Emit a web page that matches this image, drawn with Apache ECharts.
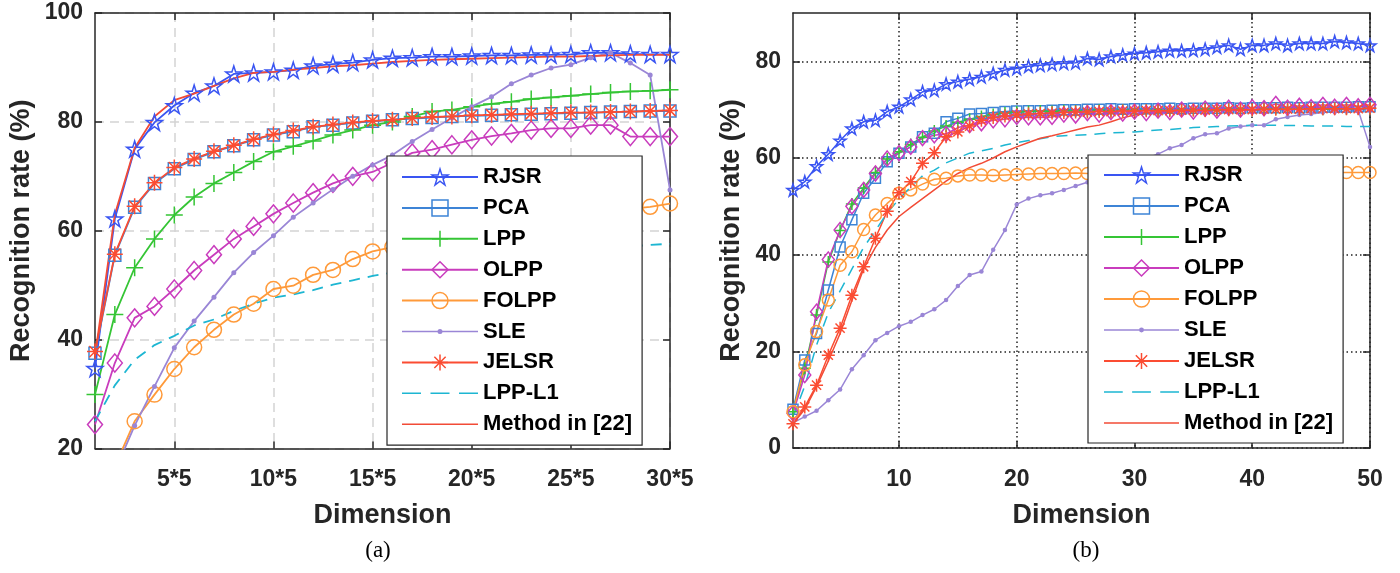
<!DOCTYPE html>
<html><head><meta charset="utf-8">
<script src="https://cdn.jsdelivr.net/npm/echarts@6/dist/echarts.min.js"></script>
<style>html,body{margin:0;padding:0;background:#fff}#c{width:1400px;height:573px}</style>
</head><body><div id="c"></div><script>
// ---------- categories / ticks ----------
const methodNames = ['RJSR','PCA','LPP','OLPP','FOLPP','SLE','JELSR','LPP-L1','Method in [22]'];
const dimsA = [1,2,3,4,5,6,7,8,9,10,11,12,13,14,15,16,17,18,19,20,21,22,23,24,25,26,27,28,29,30];
const xTicksA = [5,10,15,20,25,30];
const xTickLabelsA = ['5*5','10*5','15*5','20*5','25*5','30*5'];
const yTicksA = [20,40,60,80,100];
const dimsB = [1,2,3,4,5,6,7,8,9,10,11,12,13,14,15,16,17,18,19,20,21,22,23,24,25,26,27,28,29,30,31,32,33,34,35,36,37,38,39,40,41,42,43,44,45,46,47,48,49,50];
const xTicksB = [10,20,30,40,50];
const yTicksB = [0,20,40,60,80];

// ---------- (a) values ----------
const rjsrA   = [34.7,62.2,75.0,79.9,83.0,85.3,86.6,88.8,89.0,89.2,89.5,90.3,90.6,90.9,91.4,91.7,91.8,92.0,92.0,92.1,92.2,92.2,92.3,92.3,92.4,92.7,92.7,92.5,92.4,92.4];
const pcaA    = [37.5,55.5,64.3,68.7,71.4,73.1,74.5,75.6,76.7,77.6,78.2,79.1,79.4,79.8,80.1,80.4,80.6,80.8,81.0,81.1,81.2,81.3,81.4,81.5,81.6,81.7,81.8,81.9,82.0,82.0];
const lppA    = [29.9,44.6,53.2,58.5,62.9,66.2,68.7,70.7,72.7,74.5,75.5,76.5,77.6,78.5,79.4,80.0,81.0,81.9,82.2,82.8,83.3,83.7,84.2,84.5,84.8,85.1,85.4,85.6,85.7,85.9];
const olppA   = [24.4,35.7,44.0,46.1,49.3,52.7,55.6,58.5,60.8,63.1,65.1,67.0,68.7,70.0,70.8,72.5,74.3,74.9,75.8,76.7,77.4,77.9,78.5,78.8,78.8,79.4,79.4,77.3,77.3,77.3];
const folppA  = [9.0,16.7,25.0,29.9,34.6,38.6,41.8,44.6,46.6,49.3,49.9,51.9,52.8,54.8,56.2,57.0,57.8,58.5,59.2,59.9,60.4,61.0,61.5,62.1,62.6,63.0,63.5,64.0,64.4,65.0];
const sleA    = [8.0,15.8,24.2,31.4,38.5,43.4,47.8,52.3,56.0,59.1,62.5,65.1,67.6,70.0,72.1,73.9,76.4,78.6,80.7,82.8,84.6,87.0,88.6,89.9,90.5,91.8,92.7,90.8,88.6,67.5];
const jelsrA  = [37.8,55.7,64.5,68.8,71.6,73.2,74.6,75.7,76.8,77.7,78.4,79.1,79.5,79.9,80.2,80.4,80.7,80.9,81.0,81.2,81.3,81.4,81.5,81.6,81.7,81.7,81.8,81.9,82.0,82.1];
const lppl1A  = [25.0,31.6,36.3,39.0,40.7,42.6,43.7,45.3,46.6,47.7,48.3,49.1,50.1,50.9,51.7,52.3,52.9,53.4,53.9,54.4,54.8,55.2,55.6,56.0,56.3,56.6,56.9,57.1,57.4,57.6];
const methodA = [37.0,63.0,75.2,81.0,84.0,85.2,86.6,88.0,89.0,89.2,89.6,89.9,90.2,90.4,90.7,91.0,91.2,91.4,91.5,91.6,91.7,91.8,91.9,92.0,92.0,92.1,92.2,92.3,92.3,92.3];

// ---------- (b) values ----------
const rjsrB   = [53.4,55.1,58.3,60.8,63.6,66.1,67.5,67.8,69.6,70.6,72.1,73.7,74.0,75.3,75.8,76.3,76.8,77.5,78.2,78.5,79.0,79.2,79.4,79.6,79.7,80.6,80.4,81.0,81.3,81.6,81.8,82.0,82.2,82.2,82.3,82.5,82.9,83.3,82.5,83.3,83.3,83.7,83.3,83.7,83.7,83.7,84.1,83.9,83.7,83.3];
const pcaB    = [8.0,18.2,23.7,32.7,41.6,47.2,52.7,55.8,59.2,61.0,62.3,64.4,65.1,67.5,68.2,69.1,69.2,69.4,69.6,69.7,69.8,69.8,69.9,70.0,70.0,70.1,70.1,70.2,70.1,70.2,70.2,70.2,70.3,70.2,70.3,70.3,70.3,70.4,70.3,70.4,70.4,70.4,70.5,70.4,70.5,70.5,70.5,70.5,70.6,70.6];
const lppB    = [7.5,16.5,27.5,38.5,45.0,50.5,53.8,57.0,59.8,61.3,62.8,64.3,65.6,66.6,67.4,68.0,68.6,69.0,69.3,69.5,69.6,69.7,69.6,69.8,69.7,69.8,69.9,69.8,69.9,70.0,69.9,70.0,70.0,69.9,70.0,70.1,70.0,70.1,70.1,70.0,70.1,70.2,70.1,70.2,70.2,70.1,70.2,70.2,70.2,70.3];
const olppB   = [7.2,15.1,28.2,39.0,45.1,50.0,53.4,56.8,59.9,61.0,62.3,64.1,64.7,65.0,66.3,66.8,67.2,67.8,68.0,68.5,68.4,68.4,68.5,69.0,68.8,69.3,69.0,69.5,69.2,69.6,69.3,69.8,69.5,70.0,69.6,70.2,69.8,70.4,70.0,70.5,70.3,71.2,70.4,70.8,70.5,71.0,70.6,71.0,70.7,71.0];
const folppB  = [7.5,17.2,24.1,30.6,37.8,40.6,45.2,48.2,50.6,52.7,53.4,54.6,55.6,55.8,56.3,56.5,56.5,56.4,56.5,56.6,56.7,56.8,56.8,56.8,56.9,56.8,56.9,56.9,56.8,56.9,57.0,56.9,56.9,57.0,56.9,57.0,57.0,56.9,57.0,57.0,57.0,56.9,57.0,57.0,57.0,56.9,57.0,57.0,57.0,57.0];
const sleB    = [5.2,6.5,7.7,9.9,12.1,16.3,19.2,22.3,23.8,25.2,26.1,27.5,28.7,30.6,33.5,35.8,36.5,41.0,45.1,50.4,51.6,52.3,52.7,53.4,54.2,55.0,56.0,57.2,58.3,59.3,60.0,60.8,62.0,62.7,64.1,64.9,65.1,66.1,66.5,66.8,66.8,68.0,68.5,68.9,69.1,69.4,69.6,69.6,69.9,62.3];
const jelsrB  = [5.0,8.5,13.0,19.2,24.8,31.6,37.5,43.4,49.0,52.8,55.1,58.9,61.1,64.4,65.4,66.6,67.8,68.4,68.7,68.9,69.1,69.2,69.3,69.4,69.5,69.5,69.6,69.6,69.7,69.7,69.8,69.8,69.8,69.9,69.9,69.9,70.0,70.0,70.0,70.0,70.1,70.1,70.1,70.1,70.2,70.2,70.2,70.2,70.2,70.3];
const lppl1B  = [6.5,12.8,21.3,28.0,32.5,37.0,41.5,45.0,48.6,51.5,54.0,56.3,57.5,59.0,60.0,61.0,61.5,62.0,62.7,63.2,63.6,64.0,64.4,64.6,64.7,64.8,65.0,65.2,65.3,65.4,65.6,65.8,65.9,66.1,66.3,66.4,66.5,66.6,66.7,66.8,66.8,66.8,66.7,66.7,66.6,66.6,66.6,66.5,66.5,66.5];
const methodB = [5.0,8.0,12.7,18.0,23.7,30.5,37.1,41.5,45.1,47.9,49.8,51.6,53.4,55.2,56.8,58.0,58.9,60.0,61.3,62.3,63.2,64.1,64.6,65.2,65.8,66.4,66.8,67.5,68.3,68.9,69.2,69.4,69.5,69.6,69.7,69.7,69.8,69.8,69.9,69.9,70.0,70.0,70.0,70.1,70.1,70.1,70.2,70.2,70.2,70.2];

// ---------- styles ----------
const C = {
  'RJSR':'#3a55f2','PCA':'#3d84d6','LPP':'#35c535','OLPP':'#c93cbd','FOLPP':'#ff9a3a',
  'SLE':'#9a86d6','JELSR':'#fb4c32','LPP-L1':'#1db6d2','Method in [22]':'#f24b36'
};
const STAR = 'path://M0,-10 L2.245,-3.09 L9.51,-3.09 L3.633,1.18 L5.88,8.09 L0,3.82 L-5.88,8.09 L-3.633,1.18 L-9.51,-3.09 L-2.245,-3.09 Z';
const PLUS = 'path://M0,-10 L0,10 M-10,0 L10,0';
const ASTER = 'path://M0,-10 L0,10 M-10,0 L10,0 M-7.07,-7.07 L7.07,7.07 M-7.07,7.07 L7.07,-7.07';
const SYM = {
  'RJSR':[STAR,[16,16],[12,12]], 'PCA':['rect',[12,12],[10,10]], 'LPP':[PLUS,[17,17],[12,12]],
  'OLPP':['diamond',[15,18],[12,15]], 'FOLPP':['circle',[15,15],[12,12]], 'SLE':['circle',[5,5],[4.5,4.5]],
  'JELSR':[ASTER,[16,16],[13,13]], 'LPP-L1':['none',0,0], 'Method in [22]':['none',0,0]
};
const TXT = '#262626';
const FONT = 'Liberation Sans';

function mk(name, vals, dims, idx, which) {
  const col = C[name];
  const s = SYM[name];
  const filled = name === 'SLE' || s[0] === 'none';
  return {
    type:'line', name: name, xAxisIndex: idx, yAxisIndex: idx,
    data: dims.map((d,i)=>[d, vals[i]]),
    symbol: s[0], symbolSize: which === 0 ? s[1] : s[2], showSymbol: s[0] !== 'none',
    clip: true, animation:false, silent:true,
    lineStyle:{color:col, width: which===0 ? 1.8 : 1.5, type: name==='LPP-L1' ? [11,8] : 'solid'},
    itemStyle: filled ? {color:col, borderWidth:0} : {color:'rgba(0,0,0,0)', borderColor:col, borderWidth:1.5},
    emphasis:{disabled:true}
  };
}
const valsA = [rjsrA,pcaA,lppA,olppA,folppA,sleA,jelsrA,lppl1A,methodA];
const valsB = [rjsrB,pcaB,lppB,olppB,folppB,sleB,jelsrB,lppl1B,methodB];
const series = [];
methodNames.forEach((n,i)=>series.push(mk(n, valsA[i], dimsA, 0, 0)));
methodNames.forEach((n,i)=>series.push(mk(n, valsB[i], dimsB, 1, 1)));

const ICONS = {
  'SLE':'path://M0,9.2 L76,9.2 L76,10.8 L0,10.8 Z M35.5,10 A2.5,2.5 0 1,1 40.5,10 A2.5,2.5 0 1,1 35.5,10 Z',
  'LPP-L1':'path://M0,9.2 L19,9.2 L19,10.8 L0,10.8 Z M28.5,9.2 L47.5,9.2 L47.5,10.8 L28.5,10.8 Z M57,9.2 L76,9.2 L76,10.8 L57,10.8 Z',
  'Method in [22]':'path://M0,9.2 L76,9.2 L76,10.8 L0,10.8 Z'
};
function legendData() {
  return methodNames.map(n => ICONS[n] ? {name:n, icon: ICONS[n], itemStyle:{borderWidth:0, color:C[n]}} : {name:n});
}

const axisLineStyle = {color:TXT, width:1.5};
function xAx(grid, min, max, ticks, fmt, pos, grids) {
  return {
    type:'value', gridIndex:grid, min:min, max:max, position:pos,
    axisLine:{show:true, onZero:false, lineStyle:axisLineStyle},
    axisTick:{show:true, inside:true, length:7, customValues:ticks, lineStyle:axisLineStyle},
    axisLabel:{show: pos==='bottom', customValues:ticks, formatter:fmt, margin:20,
      fontFamily:FONT, fontWeight:'bold', fontSize:23, color:TXT},
    splitLine: grids ? grids : {show:false},
    name: pos==='bottom' ? 'Dimension' : '', nameLocation:'middle', nameGap:54,
    nameTextStyle:{fontFamily:FONT, fontWeight:'bold', fontSize:27, color:TXT}
  };
}
function yAx(grid, min, max, ticks, pos, grids, gap) {
  return {
    type:'value', gridIndex:grid, min:min, max:max, position:pos,
    axisLine:{show:true, onZero:false, lineStyle:axisLineStyle},
    axisTick:{show:true, inside:true, length:7, customValues:ticks, lineStyle:axisLineStyle},
    axisLabel:{show: pos==='left', customValues:ticks, margin:12,
      fontFamily:FONT, fontWeight:'bold', fontSize:23, color:TXT},
    splitLine: grids ? grids : {show:false},
    name: pos==='left' ? 'Recognition rate (%)' : '', nameLocation:'middle', nameGap:gap, nameRotate:90,
    nameTextStyle:{fontFamily:FONT, fontWeight:'bold', fontSize:27, color:TXT}
  };
}
const gridDashed = {show:true, lineStyle:{color:'#d4d4d4', width:1.5, type:[9,6]}};
const gridDotted = {show:true, lineStyle:{color:'#222', width:1.5, type:[1.5,3]}};

function legendCfg(left, top, w, gap, pad) {
  return {left:left, top:top, orient:'vertical', data:legendData(), selectedMode:false,
    itemWidth:w, itemHeight:20, itemGap:gap, padding:pad,
    itemStyle:{borderWidth:1.5},
    backgroundColor:'#fff', borderColor:TXT, borderWidth:1.2,
    textStyle:{fontFamily:FONT, fontWeight:'bold', fontSize:22, lineHeight:22, color:'#000'}};
}

const option = {
  backgroundColor:'#fff',
  animation:false,
  grid:[
    {left:95, top:13, width:575, height:435.5},
    {left:793, top:13, width:577, height:435}
  ],
  xAxis:[
    xAx(0, 1, 30, xTicksA, v => xTickLabelsA[xTicksA.indexOf(v)], 'bottom', gridDashed),
    xAx(1, 1, 50, xTicksB, v => String(v), 'bottom', gridDotted),
    xAx(0, 1, 30, xTicksA, null, 'top', null),
    xAx(1, 1, 50, xTicksB, null, 'top', null)
  ],
  yAxis:[
    yAx(0, 20, 100, yTicksA, 'left', gridDashed, 60),
    yAx(1, 0, 90, yTicksB, 'left', gridDotted, 48),
    yAx(0, 20, 100, yTicksA, 'right', null, 0),
    yAx(1, 0, 90, yTicksB, 'right', null, 0)
  ],
  legend:[
    legendCfg(387, 156, 76, 8.9, [10,10,10,14]),
    legendCfg(1088, 155, 75, 9, [9,10,9,15])
  ],
  graphic:[
    {type:'text', x:378, y:551, style:{text:'(a)', align:'center', verticalAlign:'middle', fontFamily:'Liberation Serif', fontSize:23, fill:'#000'}},
    {type:'text', x:1086, y:551, style:{text:'(b)', align:'center', verticalAlign:'middle', fontFamily:'Liberation Serif', fontSize:23, fill:'#000'}}
  ],
  series: series
};
const chart = echarts.init(document.getElementById('c'), null, {renderer:'canvas'});
chart.setOption(option);
</script></body></html>
